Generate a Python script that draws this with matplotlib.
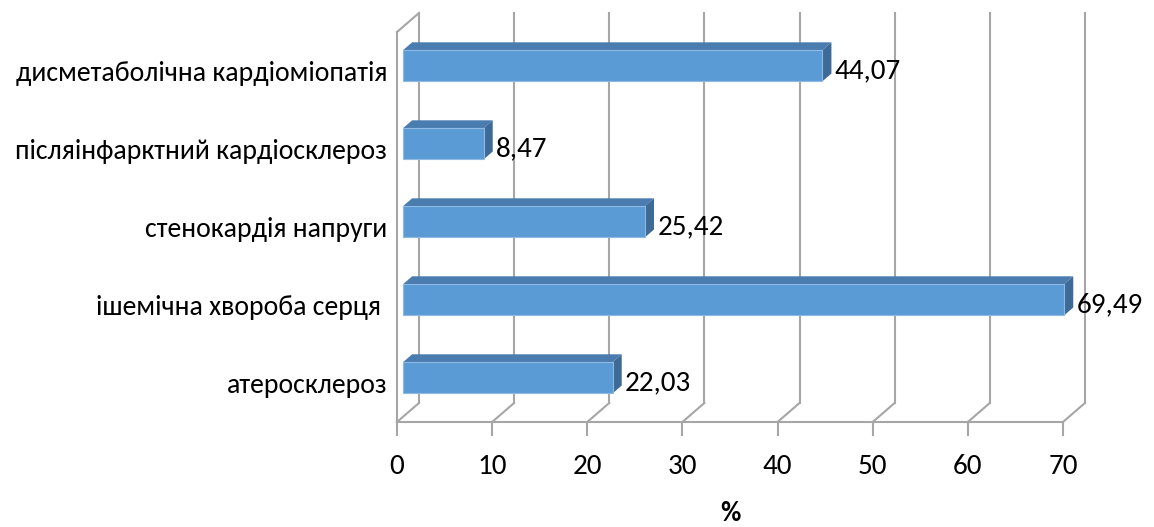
import matplotlib
matplotlib.use("Agg")
import matplotlib.pyplot as plt
from matplotlib.patches import Polygon
from matplotlib import font_manager

# Діагнози (зверху вниз) та частка пацієнтів, %
categories = ["дисметаболічна кардіоміопатія",
              "післяінфарктний кардіосклероз",
              "стенокардія напруги",
              "ішемічна хвороба серця ",
              "атеросклероз"]
values = [44.07, 8.47, 25.42, 69.49, 22.03]
x_ticks = [0, 10, 20, 30, 40, 50, 60, 70]

names = {f.name for f in font_manager.fontManager.ttflist}
if "Carlito" in names:
    plt.rcParams["font.family"] = ["Carlito", "DejaVu Sans"]
    FS = 20
else:
    plt.rcParams["font.family"] = ["Lato", "DejaVu Sans"]
    FS = 18

GRID = "#a6a6a6"
FRONT = "#5b9bd5"
TOP = "#4a7cb0"
SIDE = "#3e6a97"

# глибина "коробки" у одиницях осей
DX, DY = 2.31, 0.244
f0, f1 = 0.28, 0.69     # передня і задня грані стовпчика
bar_h = 0.40

fig = plt.figure(figsize=(11.54, 5.27), dpi=100)
ax = fig.add_axes([0.3440, 0.1992, 0.5771, 0.7400])
ax.set_xlim(0, 70)
ax.set_ylim(-0.5, 4.5)

n = len(categories)
ypos = [n - 1 - i for i in range(n)]

# задня стінка та підлога
for v in x_ticks:
    ax.plot([v + DX, v + DX], [-0.5 + DY, 4.5 + DY], color=GRID, lw=1.5, clip_on=False, zorder=1)
    ax.plot([v, v + DX], [-0.5, -0.5 + DY], color=GRID, lw=1.5, clip_on=False, zorder=1)
ax.plot([0, DX], [4.5, 4.5 + DY], color=GRID, lw=1.5, clip_on=False, zorder=1)

# стовпчики
for y, v in zip(ypos, values):
    x0, x1 = f0 * DX, v + f0 * DX
    yb, yt = y - bar_h / 2 + f0 * DY, y + bar_h / 2 + f0 * DY
    ddx, ddy = (f1 - f0) * DX, (f1 - f0) * DY
    top = [(x0, yt), (x1, yt), (x1 + ddx, yt + ddy), (x0 + ddx, yt + ddy)]
    side = [(x1, yb), (x1 + ddx, yb + ddy), (x1 + ddx, yt + ddy), (x1, yt)]
    front = [(x0, yb), (x1, yb), (x1, yt), (x0, yt)]
    ax.add_patch(Polygon(top, closed=True, fc=TOP, ec="none", zorder=3, clip_on=False))
    ax.add_patch(Polygon(side, closed=True, fc=SIDE, ec="none", zorder=3, clip_on=False))
    ax.add_patch(Polygon(front, closed=True, fc=FRONT, ec="#8fb9e2", lw=0.8, zorder=4, clip_on=False))
    ax.text(v + f1 * DX + 0.35, y, f"{v:.2f}".replace(".", ","), ha="left", va="center",
            fontsize=FS + 1, color="black", zorder=5)

ax.set_yticks(ypos)
ax.set_yticklabels(categories, fontsize=FS)
ax.tick_params(axis="y", length=0, pad=7)
ax.set_xticks(x_ticks)
ax.set_xticklabels([str(t) for t in x_ticks], fontsize=FS + 1)
ax.tick_params(axis="x", length=10, width=1.5, color=GRID, pad=13, direction="out")

for s in ["top", "right"]:
    ax.spines[s].set_visible(False)
for s in ["left", "bottom"]:
    ax.spines[s].set_color(GRID)
    ax.spines[s].set_linewidth(1.5)
ax.patch.set_visible(False)

ax.set_xlabel("%", fontsize=FS, fontweight="bold", labelpad=16)

fig.savefig("out.png", dpi=100, facecolor="white")
